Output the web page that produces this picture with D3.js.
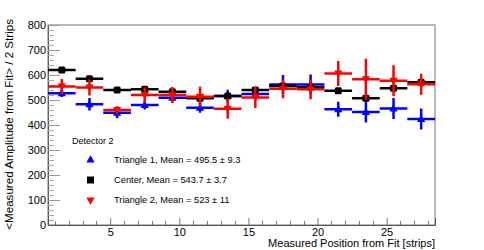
<!DOCTYPE html>
<html><head><meta charset="utf-8">
<script src="https://cdn.jsdelivr.net/npm/d3@7/dist/d3.min.js"></script>
<style>body{margin:0;background:#fff}svg{display:block}text{font-family:"Liberation Sans",Arial,sans-serif}</style>
</head><body>
<script>
const binCenters = [1.5, 3.5, 5.5, 7.5, 9.5, 11.5, 13.5, 15.5, 17.5, 19.5, 21.5, 23.5, 25.5, 27.5];
const binHalfWidth = 1;
const tri1 = [527, 483, 449, 480, 509, 469, 516, 524, 562, 562, 463, 452, 466, 424];
const tri1Err = [15, 25, 22, 18, 15, 20, 25, 25, 38, 40, 30, 42, 42, 42];
const center = [620, 585, 540, 543, 533, 507, 516, 540, 556, 551, 537, 507, 547, 571];
const centerErr = [8, 10, 6, 8, 8, 8, 8, 8, 8, 8, 8, 12, 10, 8];
const tri2 = [554, 550, 460, 520, 520, 513, 465, 510, 545, 543, 606, 583, 577, 563];
const tri2Err = [30, 32, 15, 30, 32, 40, 40, 42, 38, 40, 50, 82, 62, 42];
const xTicks = [5, 10, 15, 20, 25];
const yTicks = [0, 100, 200, 300, 400, 500, 600, 700, 800];
const legendTitle = "Detector 2";
const legendLabels = ["Triangle 1, Mean = 495.5 \u00b1 9.3", "Center, Mean = 543.7 \u00b1 3.7", "Triangle 2, Mean = 523 \u00b1 11"];
const xTitle = "Measured Position from Fit [strips]";
const yTitle = "<Measured Amplitude from Fit> / 2 Strips";

const W = 484, H = 250;
const svg = d3.select("body").append("svg").attr("width", W).attr("height", H);
const x = d3.scaleLinear().domain([0.5, 28.5]).range([48, 435]);
const y = d3.scaleLinear().domain([0, 800]).range([225, 25]);

// frame
svg.append("rect").attr("x", 48).attr("y", 25).attr("width", 387).attr("height", 200)
  .attr("fill", "none").attr("stroke", "#777").attr("stroke-width", 1);

// y axis
const yAxis = d3.axisLeft(y).tickValues(yTicks).tickSize(-12).tickPadding(-1);
const gy = svg.append("g").attr("transform", "translate(48,0)").call(yAxis);
gy.select(".domain").attr("stroke", "#555");
gy.selectAll(".tick line").attr("stroke", "#999");
gy.selectAll(".tick text").attr("font-size", 11).attr("fill", "#000").attr("x", -2);
const yMinor = d3.range(0, 801, 20).filter(v => v % 100 !== 0);
svg.append("g").selectAll("line").data(yMinor).join("line")
  .attr("x1", 48).attr("x2", 54).attr("y1", d => y(d) + 0.5).attr("y2", d => y(d) + 0.5)
  .attr("stroke", "#aaa");

// x axis
const xAxis = d3.axisBottom(x).tickValues(xTicks).tickSize(-7).tickPadding(4);
const gx = svg.append("g").attr("transform", "translate(0,225)").call(xAxis);
gx.select(".domain").attr("stroke", "#555");
gx.selectAll(".tick line").attr("stroke", "#777");
gx.selectAll(".tick text").attr("font-size", 11).attr("fill", "#000").attr("y", 3);
const xMinor = d3.range(1, 29).filter(v => v % 5 !== 0);
svg.append("g").selectAll("line").data(xMinor).join("line")
  .attr("x1", d => Math.round(x(d)) + 0.5).attr("x2", d => Math.round(x(d)) + 0.5)
  .attr("y1", 225).attr("y2", 221).attr("stroke", "#777");

// titles
svg.append("text").attr("x", 435).attr("y", 247).attr("text-anchor", "end")
  .attr("font-size", 11).text(xTitle);
svg.append("text").attr("transform", "translate(13,19) rotate(-90)").attr("text-anchor", "end")
  .attr("font-size", 11.6).text(yTitle);

// series
const tri = d3.symbol().type(d3.symbolTriangle).size(30);
function drawSeries(vals, errs, color, marker, rot) {
  const g = svg.append("g");
  const data = binCenters.map((c, i) => ({c, v: vals[i], e: errs[i]}));
  g.selectAll(".h").data(data).join("line")
    .attr("x1", d => x(d.c - binHalfWidth)).attr("x2", d => x(d.c + binHalfWidth))
    .attr("y1", d => y(d.v)).attr("y2", d => y(d.v))
    .attr("stroke", color).attr("stroke-width", 2.5);
  g.selectAll(".v").data(data).join("line")
    .attr("x1", d => x(d.c)).attr("x2", d => x(d.c))
    .attr("y1", d => y(d.v - d.e)).attr("y2", d => y(d.v + d.e))
    .attr("stroke", color).attr("stroke-width", 2.5);
  if (marker === "square") {
    g.selectAll(".m").data(data).join("rect")
      .attr("x", d => x(d.c) - 3.5).attr("y", d => y(d.v) - 3.5).attr("width", 7).attr("height", 7)
      .attr("rx", 1.5).attr("fill", color);
  } else {
    g.selectAll(".m").data(data).join("path").attr("d", tri)
      .attr("transform", d => `translate(${x(d.c)},${y(d.v) + (rot ? -0.5 : 0.5)}) rotate(${rot})`)
      .attr("fill", color);
  }
}
drawSeries(tri1, tri1Err, "#0000ff", "tri", 0);
drawSeries(center, centerErr, "#000000", "square", 0);
drawSeries(tri2, tri2Err, "#ff0000", "tri", 180);

// legend
svg.append("text").attr("x", 72).attr("y", 144).attr("font-size", 9).text(legendTitle);
const legColors = ["#0000ff", "#000000", "#ff0000"];
const legY = [160, 180, 200];
legendLabels.forEach((t, i) => {
  if (i === 1) {
    svg.append("rect").attr("x", 87).attr("y", legY[i] - 3.5).attr("width", 7).attr("height", 7).attr("fill", legColors[i]);
  } else {
    svg.append("path").attr("d", tri)
      .attr("transform", `translate(90.5,${legY[i]}) rotate(${i === 2 ? 180 : 0})`)
      .attr("fill", legColors[i]);
  }
  svg.append("text").attr("x", 114).attr("y", legY[i] + 3.3).attr("font-size", 9.3).text(t);
});
</script>
</body></html>
